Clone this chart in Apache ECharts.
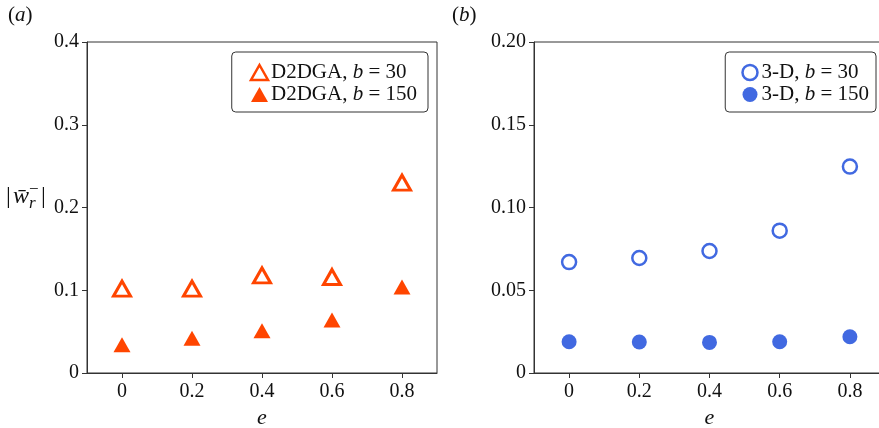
<!DOCTYPE html>
<html>
<head>
<meta charset="utf-8">
<script src="https://cdn.jsdelivr.net/npm/echarts@6/dist/echarts.min.js"></script>
<style>html,body{margin:0;padding:0;background:#fff;}#c{width:879px;height:428px;}</style>
</head>
<body>
<div id="c"></div>
<script>
// ---- data ----
var eValues = [0, 0.2, 0.4, 0.6, 0.8];
var xTicks = [0, 0.2, 0.4, 0.6, 0.8];
var d2dga_b30 = [0.102, 0.102, 0.118, 0.116, 0.230];
var d2dga_b150 = [0.034, 0.042, 0.051, 0.064, 0.104];
var threeD_b30 = [0.067, 0.0695, 0.0737, 0.086, 0.1247];
var threeD_b150 = [0.0189, 0.0187, 0.0185, 0.0189, 0.0219];
var yTicksA = [0, 0.1, 0.2, 0.3, 0.4];
var yTicksB = [0, 0.05, 0.10, 0.15, 0.20];
var seriesNames = ['D2DGA, b = 30', 'D2DGA, b = 150', '3-D, b = 30', '3-D, b = 150'];

var FONT = "'Liberation Serif', 'Times New Roman', serif";
var RED = '#FF4500', BLUE = '#4169E1';
function pairs(ys){ return eValues.map(function(x,i){ return [x, ys[i]]; }); }

function xAxis(idx){
  return {
    gridIndex: idx, type: 'value', min: -0.1, max: 0.9,
    splitLine: {show: false},
    axisLine: {show: true, onZero: false, lineStyle: {color: '#333', width: 1}},
    axisTick: {show: true, length: 5, inside: false, customValues: xTicks, lineStyle: {color: '#333'}},
    axisLabel: {customValues: xTicks, margin: 9, color: '#111', fontFamily: FONT, fontSize: 20,
      formatter: function(v){ return v === 0 ? '0' : v.toFixed(1); }},
    name: 'e', nameLocation: 'middle', nameGap: 33,
    nameTextStyle: {fontFamily: FONT, fontStyle: 'italic', fontSize: 22, color: '#111'}
  };
}
function yAxis(idx, ticks, dec){
  return {
    gridIndex: idx, type: 'value', min: ticks[0], max: ticks[ticks.length-1],
    interval: ticks[1]-ticks[0],
    splitLine: {show: false},
    axisLine: {show: true, onZero: false, lineStyle: {color: '#333', width: 1}},
    axisTick: {show: true, length: 5, lineStyle: {color: '#333'}},
    axisLabel: {margin: 8, color: '#111', fontFamily: FONT, fontSize: 20,
      formatter: function(v){ return v === 0 ? '0' : v.toFixed(dec); }}
  };
}
var legendRich = {
  n: {fontFamily: FONT, fontSize: 21, color: '#111'},
  i: {fontFamily: FONT, fontSize: 21, fontStyle: 'italic', color: '#111'}
};
function legendFmt(name){
  var parts = name.split(', b');
  return '{n|' + parts[0] + ', }{i|b}{n|' + parts[1] + '}';
}
function legend(names, icons, right, pad){
  return {
    orient: 'vertical', right: right, top: 52,
    padding: pad, itemGap: 1, itemWidth: 17, itemHeight: 15,
    borderColor: '#333', borderWidth: 1, borderRadius: 4,
    backgroundColor: '#fff',
    data: names.map(function(n, k){ return Object.assign({name: n}, icons[k]); }),
    formatter: legendFmt,
    textStyle: {fontFamily: FONT, fontSize: 21, color: '#111', padding: [0,0,0,-2], rich: legendRich}
  };
}
var gridBase = {show: true, borderColor: '#333', borderWidth: 1, backgroundColor: 'transparent',
  containLabel: false, outerBoundsMode: 'none'};

var option = {
  animation: false,
  backgroundColor: '#fff',
  grid: [
    Object.assign({left: 87, top: 42, width: 350, height: 331}, gridBase),
    Object.assign({left: 534, top: 42, width: 351, height: 331}, gridBase)
  ],
  xAxis: [xAxis(0), xAxis(1)],
  yAxis: [yAxis(0, yTicksA, 1), yAxis(1, yTicksB, 2)],
  legend: [
    legend([seriesNames[0], seriesNames[1]], [
      {icon: 'triangle', itemStyle: {color: '#fff', borderColor: RED, borderWidth: 2.5}},
      {icon: 'triangle', itemStyle: {color: RED, borderWidth: 0}}
    ], 451, [10, 11, 7, 18]),
    legend([seriesNames[2], seriesNames[3]], [
      {icon: 'circle', itemStyle: {color: '#fff', borderColor: BLUE, borderWidth: 2.5}},
      {icon: 'circle', itemStyle: {color: BLUE, borderWidth: 0}}
    ], 3, [10, 7, 7, 16])
  ],
  series: [
    {name: seriesNames[0], type: 'scatter', xAxisIndex: 0, yAxisIndex: 0, symbol: 'triangle', symbolSize: [17, 15],
      itemStyle: {color: '#fff', borderColor: RED, borderWidth: 3, opacity: 1}, data: pairs(d2dga_b30)},
    {name: seriesNames[1], type: 'scatter', xAxisIndex: 0, yAxisIndex: 0, symbol: 'triangle', symbolSize: [17, 15],
      itemStyle: {color: RED, opacity: 1}, data: pairs(d2dga_b150)},
    {name: seriesNames[2], type: 'scatter', xAxisIndex: 1, yAxisIndex: 1, symbol: 'circle', symbolSize: 14,
      itemStyle: {color: '#fff', borderColor: BLUE, borderWidth: 2.5, opacity: 1}, data: pairs(threeD_b30)},
    {name: seriesNames[3], type: 'scatter', xAxisIndex: 1, yAxisIndex: 1, symbol: 'circle', symbolSize: 15,
      itemStyle: {color: BLUE, opacity: 1}, data: pairs(threeD_b150)}
  ],
  graphic: [
    {type: 'text', left: 8, top: 5, style: {text: '{n|(}{i|a}{n|)}', rich: {
      n: {fontFamily: FONT, fontSize: 21, fill: '#111'}, i: {fontFamily: FONT, fontSize: 21, fontStyle: 'italic', fill: '#111'}}}},
    {type: 'text', left: 452, top: 5, style: {text: '{n|(}{i|b}{n|)}', rich: {
      n: {fontFamily: FONT, fontSize: 21, fill: '#111'}, i: {fontFamily: FONT, fontSize: 21, fontStyle: 'italic', fill: '#111'}}}},
    {type: 'group', left: 6, top: 181, children: [
      {type: 'text', x: 0, y: 0, style: {text: '|', fontFamily: FONT, fontSize: 24, fill: '#111'}},
      {type: 'text', x: 7, y: 0, style: {text: 'w\u0304', fontFamily: FONT, fontSize: 24, fontStyle: 'italic', fill: '#111'}},
      {type: 'text', x: 23, y: 10, style: {text: 'r', fontFamily: FONT, fontSize: 17, fontStyle: 'italic', fill: '#111'}},
      {type: 'text', x: 23, y: -4, style: {text: '\u2212', fontFamily: FONT, fontSize: 17, fill: '#111'}},
      {type: 'text', x: 35, y: 0, style: {text: '|', fontFamily: FONT, fontSize: 24, fill: '#111'}}
    ]}
  ]
};
var chart = echarts.init(document.getElementById('c'), null, {renderer: 'canvas'});
chart.setOption(option);
</script>
</body>
</html>
